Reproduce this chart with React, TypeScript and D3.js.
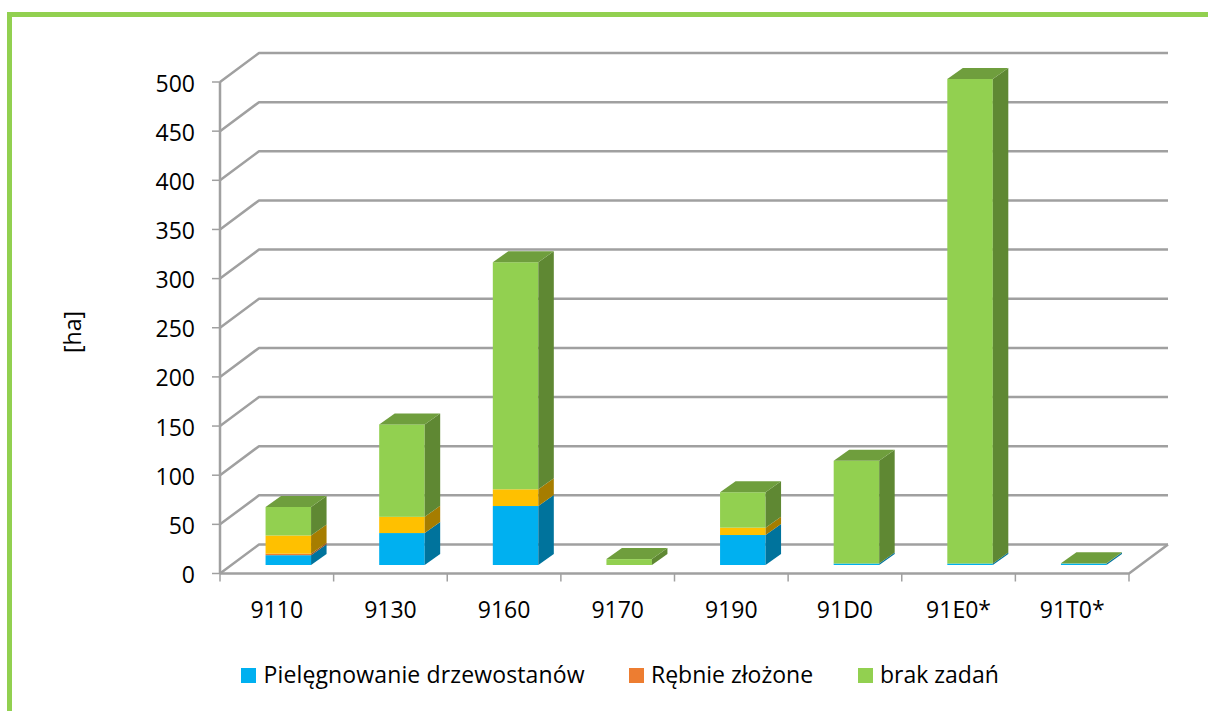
import React from "react";
import * as d3 from "d3";

const categories = ["9110", "9130", "9160", "9170", "9190", "91D0", "91E0*", "91T0*"];
const pielegnowanie = [10, 32.5, 60, 0, 30.5, 1.5, 1.5, 1.5];
const rebnie = [1.5, 0, 0, 0, 0, 0, 0, 0];
const inne = [18.5, 16.5, 17, 0, 7.5, 0, 0, 0];
const brak = [29, 94, 231, 6, 36, 104.5, 493, 0.3];
const yTicks = d3.range(0, 501, 50);
const legendItems = [
  { label: "Pielęgnowanie drzewostanów", color: "#00B0F0", x: 241, tx: 263.5 },
  { label: "Rębnie złożone", color: "#ED7D31", x: 629, tx: 651 },
  { label: "brak zadań", color: "#92D050", x: 858, tx: 880 },
];
const seriesList = [
  { values: pielegnowanie, front: "#00B0F0", side: "#00739C", top: "#0086B8" },
  { values: rebnie, front: "#ED7D31", side: "#9C5220", top: "#B45F25" },
  { values: inne, front: "#FFC000", side: "#A67D00", top: "#C29200" },
  { values: brak, front: "#92D050", side: "#5F8833", top: "#6F9E3D" },
];

const FONT = "'Open Sans', sans-serif";
const FS = 23;
const left = 220, right = 1129, floorY = 573.5, topY = 82;
const dx = 39, dy = -29;
const barDepthX = 15.5, barDepthY = -11;
const barShiftX = 11.5, barShiftY = -8.5;
const barWidth = 45.5;
const GRID = "#A0A0A0";

const y = d3.scaleLinear().domain([0, 500]).range([floorY, topY]);
const x = d3.scaleBand<string>().domain(categories).range([left, right]);
const pts = (p: number[][]) => p.map((q) => q.join(",")).join(" ");

export default function App() {
  const h = (v: number) => y(0) - y(v);
  return (
    <svg width={1208} height={711} style={{ position: "absolute", left: 0, top: 0, background: "#fff" }} fontFamily={FONT}>
      <path d="M9.5 711V14.5H1208" fill="none" stroke="#92D050" strokeWidth={5} />
      {yTicks.map((t) => (
        <g key={t} fill="none" stroke={GRID}>
          <polyline points={pts([[left - 8, y(t)], [left, y(t)]])} strokeWidth={1.5} />
          <polyline points={pts([[left, y(t)], [left + dx, y(t) + dy], [right + dx, y(t) + dy]])} strokeWidth={2.5} strokeLinejoin="round" />
        </g>
      ))}
      <polyline points={pts([[left, y(0)], [left, y(500)]])} fill="none" stroke={GRID} strokeWidth={2.5} />
      <polyline points={pts([[left, y(0)], [right, y(0)], [right + dx, y(0) + dy]])} fill="none" stroke={GRID} strokeWidth={2.5} />
      {[...categories.map((c) => x(c)!), right].map((v, i) => (
        <line key={i} x1={v} x2={v} y1={y(0)} y2={y(0) + 8} stroke={GRID} strokeWidth={1.5} />
      ))}
      {yTicks.map((t) => (
        <text key={t} x={195} y={y(t) + 9.5} fontSize={FS} textAnchor="end" fill="#000">{t}</text>
      ))}
      {categories.map((c) => (
        <text key={c} x={x(c)! + x.bandwidth() / 2} y={618} fontSize={FS} textAnchor="middle" fill="#000">{c}</text>
      ))}
      <text transform="translate(81,332) rotate(-90)" fontSize={FS} textAnchor="middle" fill="#000">[ha]</text>
      {categories.map((c, i) => {
        const x0 = x(c)! + (x.bandwidth() - barWidth) / 2 + barShiftX;
        const x1 = x0 + barWidth;
        let cum = 0;
        const stack = seriesList.filter((s) => s.values[i] > 0);
        return (
          <g key={c}>
            {stack.map((s, k) => {
              const b = y(0) + barShiftY - h(cum);
              cum += s.values[i];
              const t = y(0) + barShiftY - h(cum);
              return (
                <g key={k}>
                  <rect x={x0} y={t} width={barWidth} height={b - t} fill={s.front} />
                  <polygon points={pts([[x1, t], [x1 + barDepthX, t + barDepthY], [x1 + barDepthX, b + barDepthY], [x1, b]])} fill={s.side} />
                  {k === stack.length - 1 && (
                    <polygon points={pts([[x0, t], [x0 + barDepthX, t + barDepthY], [x1 + barDepthX, t + barDepthY], [x1, t]])} fill={s.top} />
                  )}
                </g>
              );
            })}
          </g>
        );
      })}
      {legendItems.map((l) => (
        <g key={l.label}>
          <rect x={l.x} y={668} width={15} height={15} fill={l.color} />
          <text x={l.tx} y={683} fontSize={FS} textLength={l.tx < 300 ? 321 : undefined} fill="#000">{l.label}</text>
        </g>
      ))}
    </svg>
  );
}
